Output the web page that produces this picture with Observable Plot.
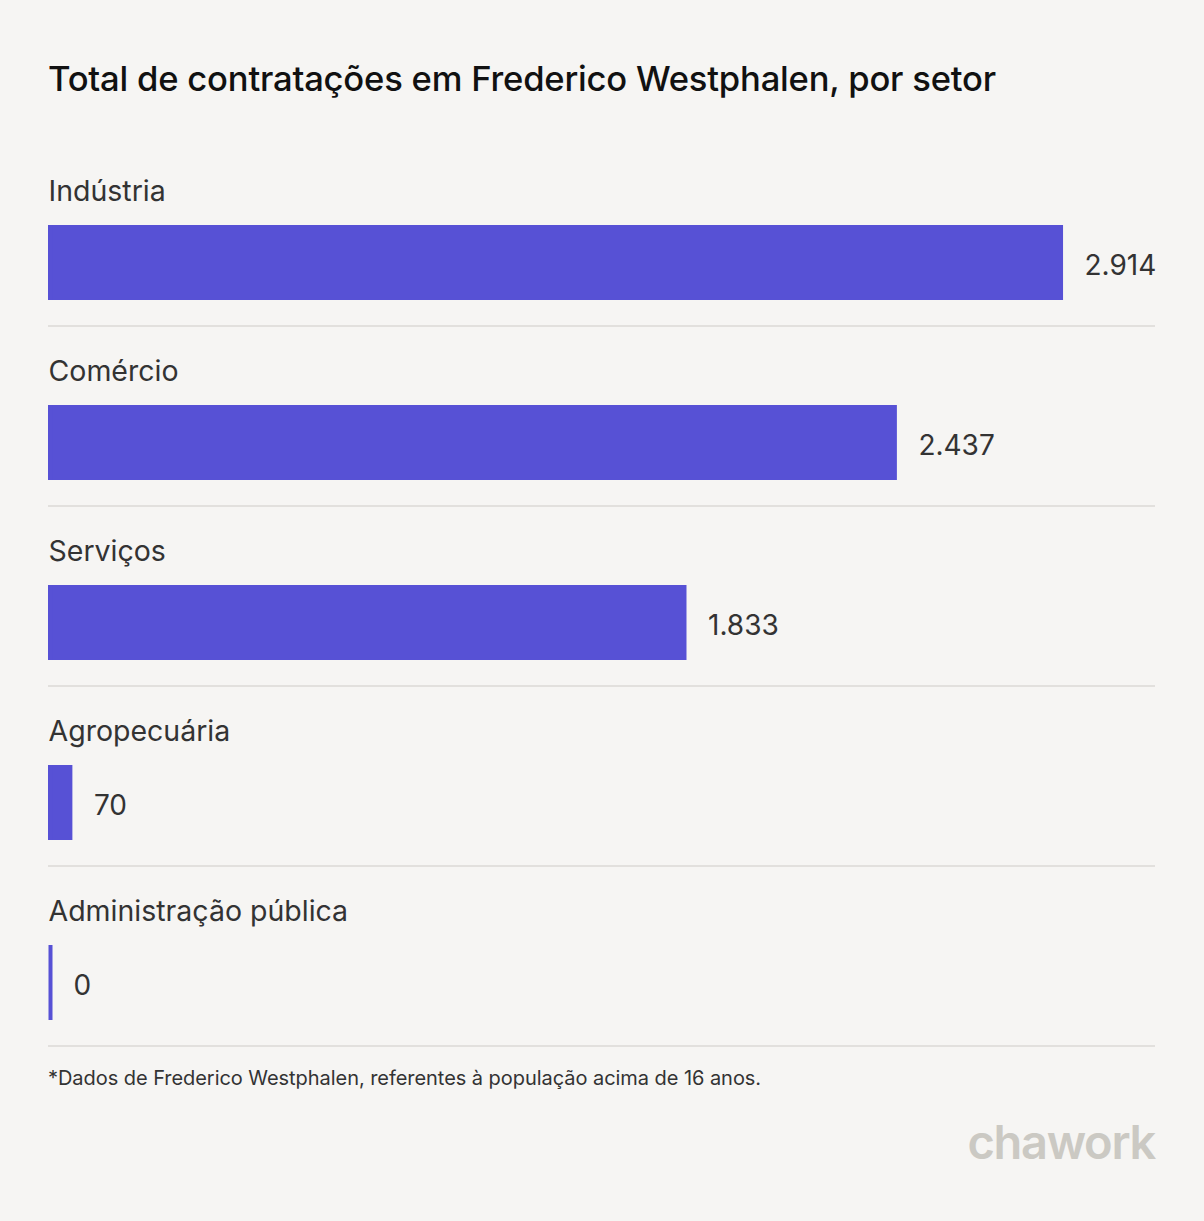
<!DOCTYPE html>
<html>
<head>
<meta charset="utf-8">
<script src="https://cdn.jsdelivr.net/npm/d3@7"></script>
<script src="https://cdn.jsdelivr.net/npm/@observablehq/plot@0.6"></script>
<style>
  html, body { margin: 0; padding: 0; background: #f6f5f3; }
  body { width: 1204px; height: 1221px; position: relative; overflow: hidden; font-family: Inter, "Noto Sans", sans-serif; }
  #chart { position: absolute; left: 0; top: 0; }
  .title { position: absolute; left: 48px; top: 57px; font-size: 34.6px; font-weight: 500; color: #111; letter-spacing: -0.2px; white-space: nowrap; }
  .note { position: absolute; left: 48px; top: 1066px; font-size: 20px; color: #333; white-space: nowrap; letter-spacing: -0.05px; }
  .logo { position: absolute; right: 49px; top: 1113px; font-size: 47px; font-weight: 600; color: #cbc9c3; letter-spacing: -1.3px; white-space: nowrap; }
</style>
</head>
<body>
<div class="title">Total de contratações em Frederico Westphalen, por setor</div>
<div id="chart"></div>
<div class="note">*Dados de Frederico Westphalen, referentes à população acima de 16 anos.</div>
<div class="logo">chawork</div>
<script>
const categories = ["Indústria", "Comércio", "Serviços", "Agropecuária", "Administração pública"];
const values = [2914, 2437, 1833, 70, 0];

const data = categories.map((c, i) => ({category: c, value: values[i]}));
const locale = d3.formatLocale({decimal: ",", thousands: ".", grouping: [3], currency: ["R$", ""]});
const fmt = locale.format(",d");

const chart = Plot.plot({
  width: 1204,
  height: 1221,
  margin: 0,
  style: {background: "transparent", fontFamily: "Inter, 'Noto Sans', sans-serif"},
  x: {domain: [0, 3178], range: [48, 1155], axis: null},
  y: {domain: categories, range: [225, 1020], paddingInner: 105 / 180, paddingOuter: 0, align: 0, axis: null},
  marks: [
    Plot.ruleY(data, {y: "category", x1: 0, x2: 3178, dy: 63, stroke: "#e2e0dd", strokeWidth: 2}),
    Plot.barX(data, {y: "category", x1: 0, x2: "value", fill: "#5751d5"}),
    Plot.tickX(data, {x: d => 0, y: "category", stroke: "#5751d5", strokeWidth: 4, dx: 2}),
    Plot.text(data, {y: "category", x: 0, text: "category", textAnchor: "start", dy: -71, fontSize: 28.5, fill: "#333"}),
    Plot.text(data.filter(d => d.value > 0), {y: "category", x: "value", text: d => fmt(d.value), textAnchor: "start", dx: 21, dy: 3, fontSize: 28, fill: "#333"}),
    Plot.text(data.filter(d => d.value === 0), {y: "category", x: "value", text: d => fmt(d.value), textAnchor: "start", dx: 25, dy: 3, fontSize: 28, fill: "#333"})
  ]
});
document.getElementById("chart").appendChild(chart);
</script>
</body>
</html>
